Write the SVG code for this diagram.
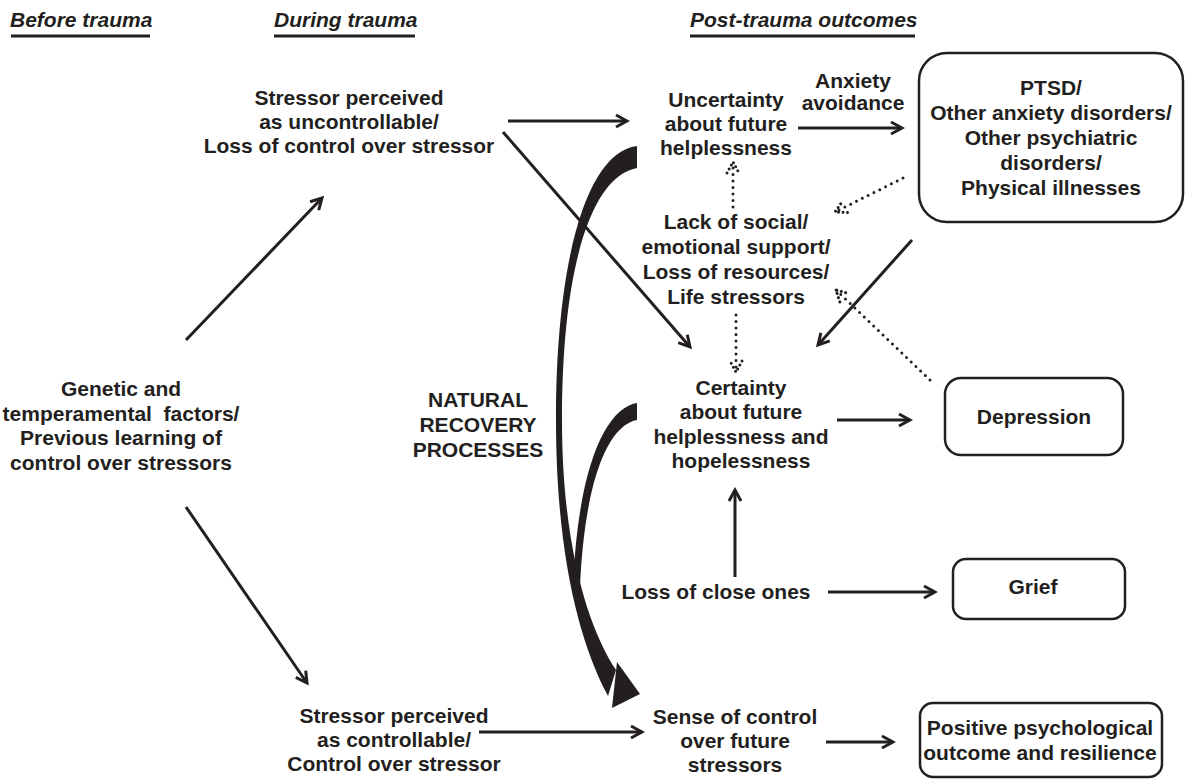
<svg xmlns="http://www.w3.org/2000/svg" width="1187" height="780" viewBox="0 0 1187 780">
<style>
text{font-family:"Liberation Sans",Arial,Helvetica,sans-serif;font-weight:bold;font-size:21px;fill:#231f20;text-anchor:middle}
text.h{font-style:italic;text-anchor:start}
.ln{stroke:#231f20;stroke-width:3;fill:none}
.dot{stroke:#231f20;stroke-width:3;fill:none;stroke-dasharray:0 6.5;stroke-linecap:round}
.box{fill:#fff;stroke:#231f20;stroke-width:2.5}
.ul{stroke:#231f20;stroke-width:3}
.blk{fill:#231f20;stroke:none}
</style>
<defs>
<marker id="ah" viewBox="0 0 16 16" refX="13" refY="8" markerWidth="16" markerHeight="16" markerUnits="userSpaceOnUse" orient="auto"><path d="M2,2 L13,8 L2,14" fill="none" stroke="#231f20" stroke-width="3"/></marker>
<marker id="ahd" viewBox="0 0 16 16" refX="13" refY="8" markerWidth="16" markerHeight="16" markerUnits="userSpaceOnUse" orient="auto"><path d="M2,2 L13,8 L2,14" fill="none" stroke="#231f20" stroke-width="3" stroke-dasharray="0 4.5" stroke-linecap="round"/></marker>
</defs>

<g id="headers">
<text class="h" x="10" y="27">Before trauma</text><line class="ul" x1="11" y1="36" x2="150" y2="36"/>
<text class="h" x="274" y="27">During trauma</text><line class="ul" x1="274" y1="36" x2="415" y2="36"/>
<text class="h" x="690" y="27">Post-trauma outcomes</text><line class="ul" x1="690" y1="36" x2="915" y2="36"/>
</g>

<g id="connectors">
<line class="ln" x1="186" y1="340" x2="322" y2="198" marker-end="url(#ah)"/>
<line class="ln" x1="186" y1="507" x2="307" y2="683" marker-end="url(#ah)"/>
<line class="ln" x1="508" y1="121" x2="627" y2="121" marker-end="url(#ah)"/>
<line class="ln" x1="503" y1="132" x2="690" y2="347" marker-end="url(#ah)"/>
<line class="ln" x1="798" y1="128" x2="902" y2="128" marker-end="url(#ah)"/>
<line class="ln" x1="912" y1="240" x2="818" y2="345" marker-end="url(#ah)"/>
<line class="dot" x1="903" y1="178" x2="835" y2="212" marker-end="url(#ahd)"/>
<line class="dot" x1="930" y1="380" x2="836" y2="290" marker-end="url(#ahd)"/>
<line class="dot" x1="733" y1="207" x2="733" y2="162" marker-end="url(#ahd)"/>
<line class="dot" x1="736" y1="315" x2="736" y2="372" marker-end="url(#ahd)"/>
<line class="ln" x1="735" y1="577" x2="735" y2="490" marker-end="url(#ah)"/>
<line class="ln" x1="828" y1="592" x2="935" y2="592" marker-end="url(#ah)"/>
<line class="ln" x1="837" y1="420" x2="910" y2="420" marker-end="url(#ah)"/>
<line class="ln" x1="479" y1="732" x2="642" y2="732" marker-end="url(#ah)"/>
<line class="ln" x1="826" y1="742" x2="893" y2="742" marker-end="url(#ah)"/>
<path class="blk" d="M637 146 C588 152 556 255 556 420 C556 550 578 640 608 696 L616 670 C588 628 562 545 562 420 C562 265 592 176 637 168 Z"/>
<path class="blk" d="M637 403 C605 408 577 470 573 590 L580 588 C584 490 605 426 637 420 Z"/>
<path class="blk" d="M617 662 L640 694 L612 708 Z"/>
</g>

<g id="n-stressor-uncontrollable">
<text x="349" y="105">Stressor perceived</text>
<text x="349" y="129">as uncontrollable/</text>
<text x="349" y="153">Loss of control over stressor</text>
</g>
<g id="n-uncertainty">
<text x="726" y="107">Uncertainty</text>
<text x="726" y="131">about future</text>
<text x="726" y="155">helplessness</text>
</g>
<g id="n-anxiety">
<text x="853" y="88">Anxiety</text>
<text x="853" y="110">avoidance</text>
</g>
<g id="n-ptsd">
<rect class="box" x="919" y="53" width="264" height="169" rx="28"/>
<text x="1051" y="95">PTSD/</text>
<text x="1051" y="120">Other anxiety disorders/</text>
<text x="1051" y="145">Other psychiatric</text>
<text x="1051" y="170">disorders/</text>
<text x="1051" y="195">Physical illnesses</text>
</g>
<g id="n-lack">
<text x="736" y="229">Lack of social/</text>
<text x="736" y="254">emotional support/</text>
<text x="736" y="279">Loss of resources/</text>
<text x="736" y="304">Life stressors</text>
</g>
<g id="n-genetic">
<text x="121" y="396">Genetic and</text>
<text x="121" y="421" xml:space="preserve">temperamental  factors/</text>
<text x="121" y="445">Previous learning of</text>
<text x="121" y="470">control over stressors</text>
</g>
<g id="n-natural">
<text x="478" y="407">NATURAL</text>
<text x="478" y="432">RECOVERY</text>
<text x="478" y="457">PROCESSES</text>
</g>
<g id="n-certainty">
<text x="741" y="395">Certainty</text>
<text x="741" y="419">about future</text>
<text x="741" y="444">helplessness and</text>
<text x="741" y="468">hopelessness</text>
</g>
<g id="n-depression">
<rect class="box" x="945" y="378" width="178" height="77" rx="16"/>
<text x="1034" y="424">Depression</text>
</g>
<g id="n-loss">
<text x="716" y="599">Loss of close ones</text>
</g>
<g id="n-grief">
<rect class="box" x="953" y="559" width="172" height="60" rx="13"/>
<text x="1033" y="594">Grief</text>
</g>
<g id="n-stressor-controllable">
<text x="394" y="723">Stressor perceived</text>
<text x="394" y="747">as controllable/</text>
<text x="394" y="771">Control over stressor</text>
</g>
<g id="n-sense">
<text x="735" y="724">Sense of control</text>
<text x="735" y="748">over future</text>
<text x="735" y="772">stressors</text>
</g>
<g id="n-positive">
<rect class="box" x="920" y="703" width="242" height="74" rx="13"/>
<text x="1040" y="735">Positive psychological</text>
<text x="1040" y="760">outcome and resilience</text>
</g>
</svg>
